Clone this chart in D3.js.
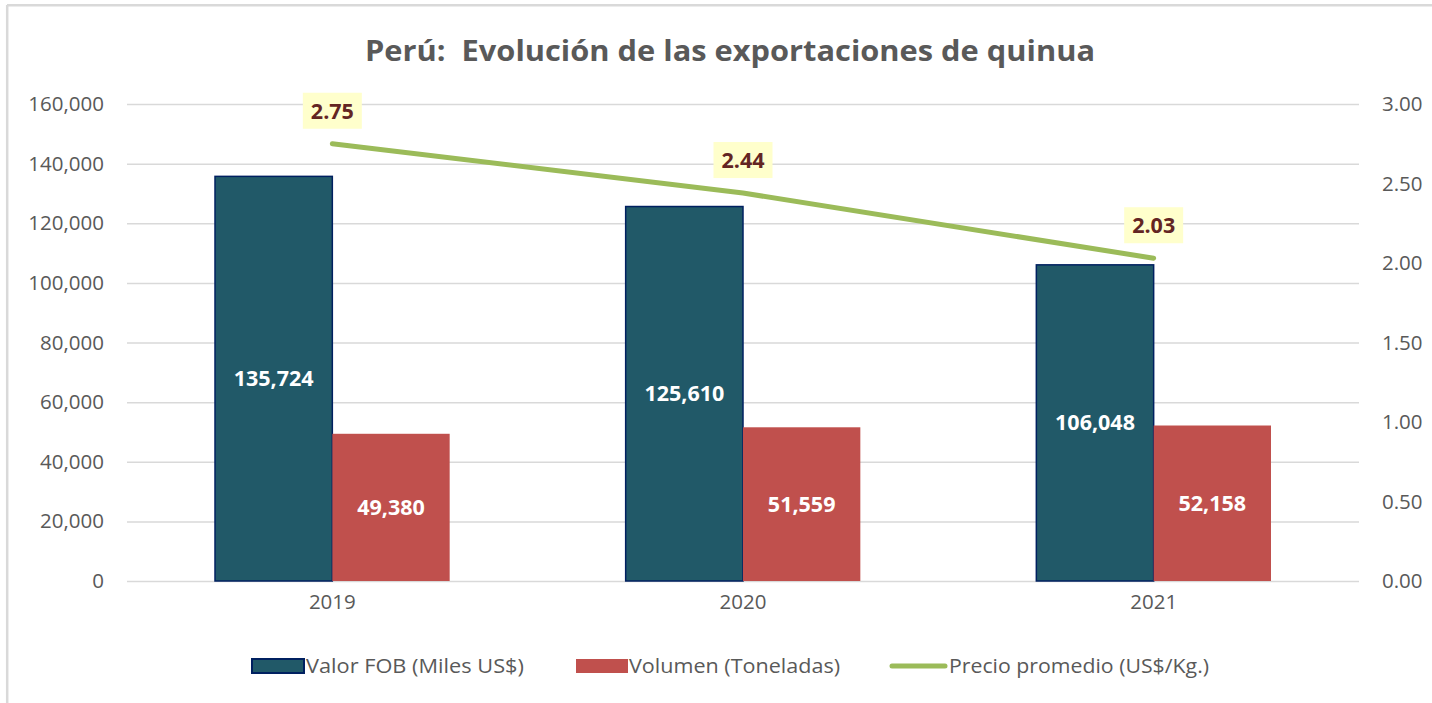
<!DOCTYPE html>
<html>
<head>
<meta charset="utf-8">
<script src="https://cdn.jsdelivr.net/npm/d3@7"></script>
<style>
  body { margin: 0; background: #fff; }
  svg { display: block; }
</style>
</head>
<body>
<div id="chart"></div>
<script>
// Data
var years = ["2019", "2020", "2021"];
var valorFob = [135724, 125610, 106048];
var volumen = [49380, 51559, 52158];
var precio = [2.75, 2.44, 2.03];
var leftTicks = [0, 20000, 40000, 60000, 80000, 100000, 120000, 140000, 160000];
var rightTicks = [0, 0.5, 1, 1.5, 2, 2.5, 3];
var seriesNames = ["Valor FOB (Miles US$)", "Volumen (Toneladas)", "Precio promedio (US$/Kg.)"];

var W = 1432, H = 703;
var font = "'Open Sans', 'Noto Sans', sans-serif";
var plot = {left: 127, right: 1359, top: 104, bottom: 581};

var svg = d3.select("#chart").append("svg")
    .attr("width", W)
    .attr("height", H);

// chart frame (top and left edges visible)
svg.append("line")
    .attr("x1", 7).attr("x2", W).attr("y1", 5.3).attr("y2", 5.3)
    .attr("stroke", "#d9d9d9").attr("stroke-width", 2.5);
svg.append("line")
    .attr("x1", 7.2).attr("x2", 7.2).attr("y1", 5).attr("y2", H)
    .attr("stroke", "#d9d9d9").attr("stroke-width", 2.5);

// Title
svg.append("text")
    .attr("x", 730)
    .attr("y", 61)
    .attr("text-anchor", "middle")
    .attr("font-family", font)
    .attr("font-size", "29px")
    .attr("font-weight", "bold")
    .attr("fill", "#595959")
    .attr("textLength", 730)
    .attr("lengthAdjust", "spacingAndGlyphs")
    .text("Perú:\u00a0\u00a0Evolución de las exportaciones de quinua");

// Scales
var x = d3.scaleBand()
    .domain(years)
    .range([plot.left, plot.right]);

var x1 = d3.scaleBand()
    .domain([0, 1])
    .range([0, x.bandwidth()])
    .paddingInner(0)
    .paddingOuter(0.75);

var y = d3.scaleLinear()
    .domain([0, 160000])
    .range([plot.bottom, plot.top]);

var y2 = d3.scaleLinear()
    .domain([0, 3])
    .range([plot.bottom, plot.top]);

// Gridlines
svg.append("g")
    .attr("transform", `translate(${plot.left},0)`)
    .call(d3.axisLeft(y).tickValues(leftTicks).tickSize(-(plot.right - plot.left)).tickFormat(""))
    .call(g => g.select(".domain").remove())
    .selectAll("line")
        .attr("stroke", "#d9d9d9")
        .attr("stroke-width", 1.5);

// Left axis
var fmt = d3.format(",");
svg.append("g")
    .attr("transform", `translate(104,0)`)
    .call(d3.axisLeft(y).tickValues(leftTicks).tickSize(0).tickPadding(0).tickFormat(fmt))
    .call(g => g.select(".domain").remove())
    .selectAll("text")
        .attr("font-family", font)
        .attr("font-size", "20.5px")
        .attr("fill", "#595959");

// Right axis
svg.append("g")
    .attr("transform", `translate(1382,0)`)
    .call(d3.axisRight(y2).tickValues(rightTicks).tickSize(0).tickPadding(0).tickFormat(d3.format(".2f")))
    .call(g => g.select(".domain").remove())
    .selectAll("text")
        .attr("font-family", font)
        .attr("font-size", "20.5px")
        .attr("fill", "#595959");

// X axis labels
svg.append("g")
    .attr("transform", `translate(0,${plot.bottom + 13})`)
    .call(d3.axisBottom(x).tickSize(0).tickPadding(0))
    .call(g => g.select(".domain").remove())
    .selectAll("text")
        .attr("font-family", font)
        .attr("font-size", "20.5px")
        .attr("fill", "#595959");

// Bars
var rows = years.map((yr, i) => ({year: yr, fob: valorFob[i], vol: volumen[i], precio: precio[i]}));

svg.selectAll(".fob")
    .data(rows)
    .join("rect")
    .attr("class", "fob")
    .attr("x", d => x(d.year) + x1(0))
    .attr("y", d => y(d.fob))
    .attr("width", x1.bandwidth())
    .attr("height", d => y(0) - y(d.fob))
    .attr("fill", "#215968")
    .attr("stroke", "#002060")
    .attr("stroke-width", 1.5);

svg.selectAll(".vol")
    .data(rows)
    .join("rect")
    .attr("class", "vol")
    .attr("x", d => x(d.year) + x1(1))
    .attr("y", d => y(d.vol))
    .attr("width", x1.bandwidth())
    .attr("height", d => y(0) - y(d.vol))
    .attr("fill", "#c0504d");

// Bar labels
svg.selectAll(".fobLabel")
    .data(rows)
    .join("text")
    .attr("class", "fobLabel")
    .attr("x", d => x(d.year) + x1(0) + x1.bandwidth() / 2)
    .attr("y", d => (y(d.fob) + y(0)) / 2)
    .attr("dy", "0.35em")
    .attr("text-anchor", "middle")
    .attr("font-family", font)
    .attr("font-size", "21.5px")
    .attr("font-weight", "bold")
    .attr("fill", "#ffffff")
    .text(d => fmt(d.fob));

svg.selectAll(".volLabel")
    .data(rows)
    .join("text")
    .attr("class", "volLabel")
    .attr("x", d => x(d.year) + x1(1) + x1.bandwidth() / 2)
    .attr("y", d => (y(d.vol) + y(0)) / 2)
    .attr("dy", "0.35em")
    .attr("text-anchor", "middle")
    .attr("font-family", font)
    .attr("font-size", "21.5px")
    .attr("font-weight", "bold")
    .attr("fill", "#ffffff")
    .text(d => fmt(d.vol));

// Price line
var line = d3.line()
    .x(d => x(d.year) + x.bandwidth() / 2)
    .y(d => y2(d.precio));

svg.append("path")
    .datum(rows)
    .attr("d", line)
    .attr("fill", "none")
    .attr("stroke", "#9bbb59")
    .attr("stroke-width", 5)
    .attr("stroke-linecap", "round")
    .attr("stroke-linejoin", "round");

// Price labels
var priceLabel = svg.selectAll(".priceLabel")
    .data(rows)
    .join("g")
    .attr("class", "priceLabel")
    .attr("transform", d => `translate(${x(d.year) + x.bandwidth() / 2},${y2(d.precio) - 33})`);

priceLabel.append("rect")
    .attr("x", -29.5)
    .attr("y", -18)
    .attr("width", 59)
    .attr("height", 36)
    .attr("fill", "#ffffcc");

priceLabel.append("text")
    .attr("dy", "0.36em")
    .attr("text-anchor", "middle")
    .attr("font-family", font)
    .attr("font-size", "21.5px")
    .attr("font-weight", "bold")
    .attr("fill", "#632523")
    .text(d => d.precio.toFixed(2));

// Legend
var legend = svg.append("g").attr("class", "legend");
var lg = [
    {name: seriesNames[0], sx: 252, tx: 306, tw: 218, type: "rect", fill: "#215968", stroke: "#002060"},
    {name: seriesNames[1], sx: 576, tx: 629, tw: 211, type: "rect", fill: "#c0504d", stroke: "none"},
    {name: seriesNames[2], sx: 890, tx: 949, tw: 260, type: "line", fill: "#9bbb59"}
];
lg.forEach(function(d) {
    if (d.type == "rect") {
        legend.append("rect")
            .attr("x", d.sx).attr("y", 659)
            .attr("width", 52).attr("height", 14)
            .attr("fill", d.fill)
            .attr("stroke", d.stroke)
            .attr("stroke-width", 2);
    } else {
        legend.append("line")
            .attr("x1", d.sx + 2).attr("x2", d.sx + 55)
            .attr("y1", 666).attr("y2", 666)
            .attr("stroke", d.fill)
            .attr("stroke-width", 5)
            .attr("stroke-linecap", "round");
    }
    legend.append("text")
        .attr("x", d.tx)
        .attr("y", 666)
        .attr("dy", "0.35em")
        .attr("font-family", font)
        .attr("font-size", "20px")
        .attr("fill", "#595959")
        .attr("textLength", d.tw)
        .attr("lengthAdjust", "spacingAndGlyphs")
        .text(d.name);
});
</script>
</body>
</html>
